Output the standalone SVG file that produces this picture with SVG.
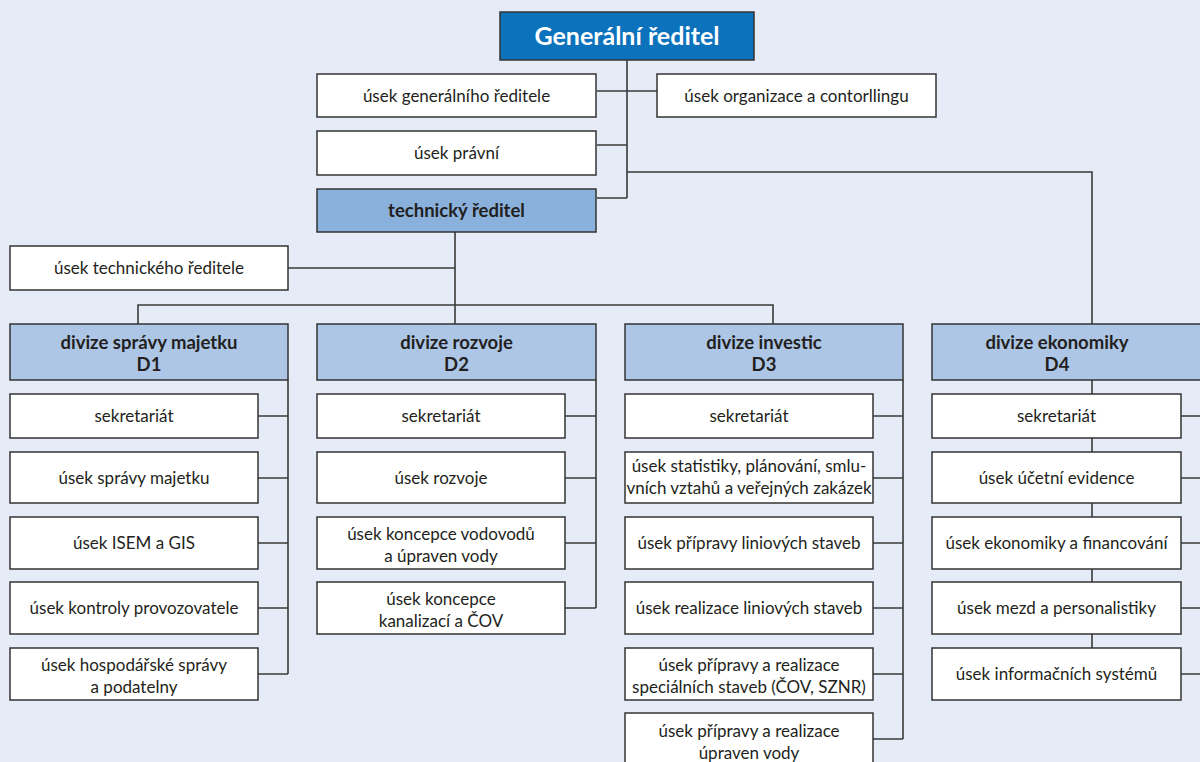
<svg xmlns="http://www.w3.org/2000/svg" width="1200" height="762" viewBox="0 0 1200 762">
<style>
.bg{fill:#e5ecf7}
.box{fill:#ffffff;stroke:#333333;stroke-width:1.5}
.gen{fill:#0b72bb;stroke:#333333;stroke-width:1.5}
.tech{fill:#8ab1dc;stroke:#333333;stroke-width:1.5}
.div{fill:#adc6e6;stroke:#333333;stroke-width:1.5}
.t{font-family:Lato,"Liberation Sans",sans-serif;font-size:17px;fill:#231f20;text-anchor:middle}
.b{font-weight:bold;font-size:18.5px}
.g{font-family:Lato,"Liberation Sans",sans-serif;font-size:25px;font-weight:bold;fill:#ffffff;text-anchor:middle}
.c{fill:none;stroke:#3a3a3a;stroke-width:1.6}
</style>
<rect class="bg" x="0" y="0" width="1200" height="762"/>
<g id="connectors">
<path class="c" d="M627 60V198M597 91H657M597 145H627M627 172H1092V324M597 198H627"/>
<path class="c" d="M455 232V324M288 268H455M138 324V305H773V324"/>
<path class="c" d="M288 380V674M258 416H288M258 478H288M258 543H288M258 608H288M258 674H288"/>
<path class="c" d="M596 380V608M565 416H596M565 478H596M565 543H596M565 608H596"/>
<path class="c" d="M903 380V739M873 416H903M873 478H903M873 543H903M873 608H903M873 674H903M873 739H903"/>
<path class="c" d="M1092 380V648M1181 416H1200M1181 478H1200M1181 543H1200M1181 608H1200M1181 674H1200"/>
</g>
<g id="n-gen"><rect class="gen" x="500" y="12" width="254" height="48"/><text class="g" x="627" y="45">Generální ředitel</text></g>
<g id="n-usek-gen"><rect class="box" x="317" y="74" width="279" height="43"/><text class="t" x="456.5" y="101.5">úsek generálního ředitele</text></g>
<g id="n-organizace"><rect class="box" x="657" y="74" width="279" height="43"/><text class="t" x="796.5" y="101.5">úsek organizace a contorllingu</text></g>
<g id="n-pravni"><rect class="box" x="317" y="131" width="279" height="44"/><text class="t" x="456.5" y="159">úsek právní</text></g>
<g id="n-tech"><rect class="tech" x="317" y="189" width="279" height="43"/><text class="t b" x="456.5" y="217">technický ředitel</text></g>
<g id="n-usek-tech"><rect class="box" x="10" y="246" width="278" height="44"/><text class="t" x="149" y="274">úsek technického ředitele</text></g>

<g id="n-d1"><rect class="div" x="10" y="324" width="278" height="56"/><text class="t b" x="149" y="348.5">divize správy majetku</text><text class="t b" x="149" y="370.5">D1</text></g>
<g id="n-d2"><rect class="div" x="317" y="324" width="279" height="56"/><text class="t b" x="456.5" y="348.5">divize rozvoje</text><text class="t b" x="456.5" y="370.5">D2</text></g>
<g id="n-d3"><rect class="div" x="625" y="324" width="278" height="56"/><text class="t b" x="764" y="348.5">divize investic</text><text class="t b" x="764" y="370.5">D3</text></g>
<g id="n-d4"><rect class="div" x="932" y="324" width="280" height="56"/><text class="t b" x="1057" y="348.5">divize ekonomiky</text><text class="t b" x="1057" y="370.5">D4</text></g>

<g id="n-d1-1"><rect class="box" x="10" y="394" width="248" height="44"/><text class="t" x="134" y="422">sekretariát</text></g>
<g id="n-d1-2"><rect class="box" x="10" y="452" width="248" height="51"/><text class="t" x="134" y="484">úsek správy majetku</text></g>
<g id="n-d1-3"><rect class="box" x="10" y="517" width="248" height="52"/><text class="t" x="134" y="549">úsek ISEM a GIS</text></g>
<g id="n-d1-4"><rect class="box" x="10" y="582" width="248" height="52"/><text class="t" x="134" y="614">úsek kontroly provozovatele</text></g>
<g id="n-d1-5"><rect class="box" x="10" y="648" width="248" height="52"/><text class="t" x="134" y="671">úsek hospodářské správy</text><text class="t" x="134" y="693">a podatelny</text></g>

<g id="n-d2-1"><rect class="box" x="317" y="394" width="248" height="44"/><text class="t" x="441" y="422">sekretariát</text></g>
<g id="n-d2-2"><rect class="box" x="317" y="452" width="248" height="51"/><text class="t" x="441" y="484">úsek rozvoje</text></g>
<g id="n-d2-3"><rect class="box" x="317" y="517" width="248" height="52"/><text class="t" x="441" y="540">úsek koncepce vodovodů</text><text class="t" x="441" y="562">a úpraven vody</text></g>
<g id="n-d2-4"><rect class="box" x="317" y="582" width="248" height="52"/><text class="t" x="441" y="605">úsek koncepce</text><text class="t" x="441" y="627">kanalizací a ČOV</text></g>

<g id="n-d3-1"><rect class="box" x="625" y="394" width="248" height="44"/><text class="t" x="749" y="422">sekretariát</text></g>
<g id="n-d3-2"><rect class="box" x="625" y="452" width="248" height="51"/><text class="t" x="749" y="472">úsek statistiky, plánování, smlu-</text><text class="t" x="749" y="494">vních vztahů a veřejných zakázek</text></g>
<g id="n-d3-3"><rect class="box" x="625" y="517" width="248" height="52"/><text class="t" x="749" y="549">úsek přípravy liniových staveb</text></g>
<g id="n-d3-4"><rect class="box" x="625" y="582" width="248" height="52"/><text class="t" x="749" y="614">úsek realizace liniových staveb</text></g>
<g id="n-d3-5"><rect class="box" x="625" y="648" width="248" height="52"/><text class="t" x="749" y="671">úsek přípravy a realizace</text><text class="t" x="749" y="693">speciálních staveb (ČOV, SZNR)</text></g>
<g id="n-d3-6"><rect class="box" x="625" y="713" width="248" height="54"/><text class="t" x="749" y="737">úsek přípravy a realizace</text><text class="t" x="749" y="759">úpraven vody</text></g>

<g id="n-d4-1"><rect class="box" x="932" y="394" width="249" height="44"/><text class="t" x="1056.5" y="422">sekretariát</text></g>
<g id="n-d4-2"><rect class="box" x="932" y="452" width="249" height="51"/><text class="t" x="1056.5" y="484">úsek účetní evidence</text></g>
<g id="n-d4-3"><rect class="box" x="932" y="517" width="249" height="52"/><text class="t" x="1056.5" y="549">úsek ekonomiky a financování</text></g>
<g id="n-d4-4"><rect class="box" x="932" y="582" width="249" height="52"/><text class="t" x="1056.5" y="614">úsek mezd a personalistiky</text></g>
<g id="n-d4-5"><rect class="box" x="932" y="648" width="249" height="52"/><text class="t" x="1056.5" y="680">úsek informačních systémů</text></g>
</svg>
